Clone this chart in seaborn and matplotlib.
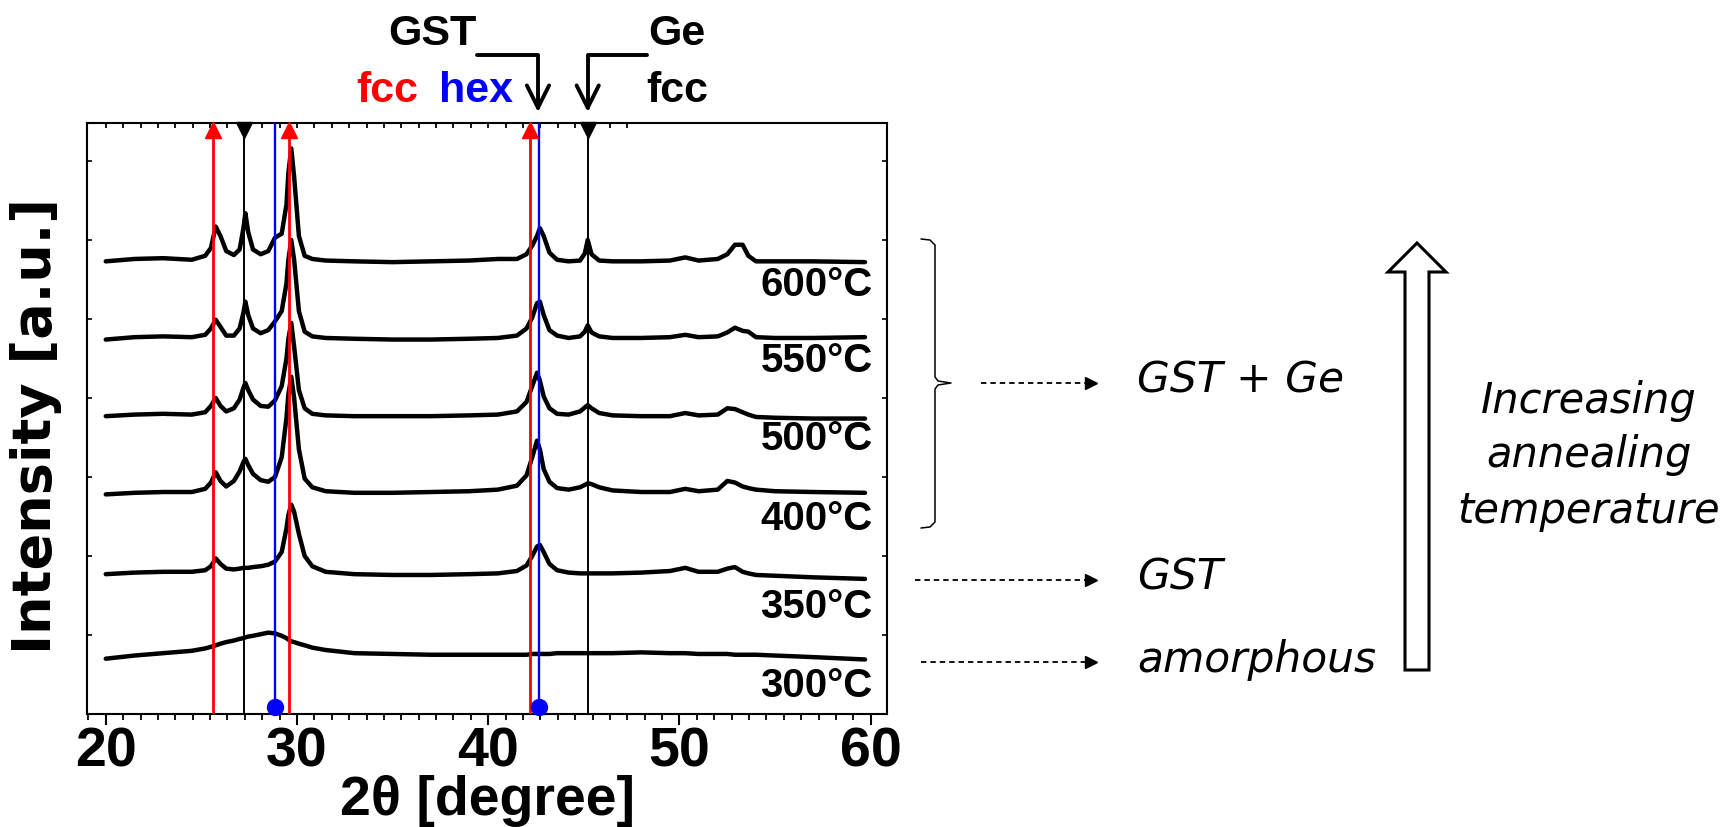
import numpy as np
import pandas as pd
import matplotlib
matplotlib.use("Agg")
import matplotlib.pyplot as plt
import seaborn as sns
import matplotlib.transforms as mtransforms
from matplotlib.ticker import MultipleLocator
from matplotlib.lines import Line2D
from matplotlib.patches import Polygon

# ---------------- data ----------------
two_theta = [20.0, 21.5, 23.0, 24.5, 25.2, 25.5, 25.75, 26.0, 26.3, 26.7,
             27.0, 27.2, 27.3, 27.45, 27.7, 28.1, 28.5, 28.85, 29.2, 29.45,
             29.55, 29.7, 29.85, 30.1, 30.4, 30.8, 31.5, 33.0, 35.0, 37.0,
             39.0, 40.5, 41.5, 42.0, 42.3, 42.55, 42.7, 42.9, 43.2, 43.6,
             44.2, 44.8, 45.05, 45.2, 45.4, 45.8, 46.5, 48.0, 49.5, 50.3,
             51.0, 52.0, 52.5, 52.9, 53.3, 53.6, 54.0, 55.0, 57.0, 59.7]

i_300 = [0.70, 0.74, 0.77, 0.80, 0.83, 0.85, 0.87, 0.89, 0.91, 0.93,
         0.95, 0.96, 0.97, 0.98, 0.99, 1.01, 1.03, 1.02, 0.99, 0.96,
         0.94, 0.92, 0.91, 0.89, 0.87, 0.84, 0.81, 0.77, 0.76, 0.75,
         0.75, 0.75, 0.75, 0.75, 0.76, 0.76, 0.76, 0.76, 0.76, 0.77,
         0.77, 0.77, 0.77, 0.77, 0.77, 0.77, 0.77, 0.78, 0.77, 0.77,
         0.76, 0.76, 0.76, 0.75, 0.75, 0.75, 0.75, 0.74, 0.72, 0.69]

i_350 = [1.77, 1.79, 1.80, 1.80, 1.82, 1.87, 1.97, 1.90, 1.84, 1.83,
         1.84, 1.85, 1.85, 1.85, 1.86, 1.87, 1.89, 1.93, 2.05, 2.35,
         2.52, 2.65, 2.56, 2.28, 2.00, 1.87, 1.80, 1.77, 1.76, 1.76,
         1.77, 1.78, 1.81, 1.88, 2.00, 2.12, 2.14, 2.05, 1.90, 1.82,
         1.79, 1.78, 1.78, 1.78, 1.78, 1.78, 1.78, 1.79, 1.81, 1.85,
         1.80, 1.80, 1.84, 1.86, 1.80, 1.78, 1.76, 1.75, 1.73, 1.71]

i_400 = [2.78, 2.80, 2.81, 2.81, 2.85, 2.93, 3.06, 2.95, 2.88, 2.95,
         3.07, 3.19, 3.23, 3.15, 3.04, 2.96, 2.94, 3.00, 3.25, 3.75,
         4.05, 4.27, 4.00, 3.35, 2.98, 2.87, 2.82, 2.80, 2.80, 2.81,
         2.82, 2.84, 2.89, 3.02, 3.25, 3.46, 3.35, 3.10, 2.94, 2.86,
         2.84, 2.87, 2.90, 2.92, 2.91, 2.87, 2.83, 2.81, 2.81, 2.85,
         2.82, 2.84, 2.95, 2.93, 2.88, 2.86, 2.84, 2.82, 2.81, 2.80]

i_500 = [3.77, 3.79, 3.80, 3.79, 3.82, 3.90, 4.00, 3.90, 3.83, 3.87,
         3.98, 4.13, 4.19, 4.10, 3.98, 3.90, 3.89, 3.97, 4.15, 4.50,
         4.75, 4.95, 4.65, 4.10, 3.87, 3.80, 3.78, 3.77, 3.77, 3.77,
         3.78, 3.79, 3.83, 3.95, 4.15, 4.32, 4.22, 4.02, 3.87, 3.80,
         3.79, 3.83, 3.88, 3.91, 3.87, 3.81, 3.78, 3.77, 3.77, 3.81,
         3.78, 3.79, 3.87, 3.86, 3.82, 3.79, 3.76, 3.75, 3.74, 3.74]

i_550 = [4.74, 4.77, 4.78, 4.77, 4.80, 4.88, 4.99, 4.90, 4.79, 4.79,
         4.88, 5.08, 5.22, 5.05, 4.88, 4.82, 4.86, 4.97, 5.10, 5.45,
         5.75, 6.00, 5.75, 5.10, 4.84, 4.78, 4.76, 4.75, 4.74, 4.74,
         4.75, 4.76, 4.79, 4.88, 5.02, 5.20, 5.22, 5.05, 4.86, 4.79,
         4.76, 4.78, 4.84, 4.92, 4.83, 4.78, 4.76, 4.76, 4.77, 4.80,
         4.77, 4.78, 4.83, 4.89, 4.85, 4.84, 4.77, 4.76, 4.76, 4.77]

i_600 = [5.73, 5.76, 5.77, 5.75, 5.80, 5.90, 6.17, 6.05, 5.86, 5.81,
         5.88, 6.15, 6.34, 6.10, 5.88, 5.82, 5.86, 6.03, 6.08, 6.45,
         6.85, 7.16, 6.80, 6.05, 5.80, 5.76, 5.74, 5.73, 5.72, 5.73,
         5.74, 5.76, 5.76, 5.82, 5.93, 6.05, 6.15, 6.05, 5.84, 5.75,
         5.73, 5.74, 5.83, 6.00, 5.82, 5.74, 5.73, 5.73, 5.74, 5.78,
         5.74, 5.76, 5.82, 5.94, 5.94, 5.80, 5.73, 5.73, 5.73, 5.72]

temps = ["300°C", "350°C", "400°C", "500°C", "550°C", "600°C"]
label_y = [0.22, 1.21, 2.33, 3.34, 4.33, 5.29]

gst_fcc = [25.6, 29.6, 42.2]      # red reference lines
gst_hex = [28.85, 42.67]          # blue reference lines
ge_fcc = [27.25, 45.2]            # black reference lines

x_ticks = [20, 30, 40, 50, 60]
x_tick_labels = ["20", "30", "40", "50", "60"]
phase_labels = ["GST + Ge", "GST", "amorphous"]
trend_lines = ["Increasing", "annealing", "temperature"]

# ---------------- figure ----------------
sns.set_style("ticks")
plt.rcParams["font.family"] = ["Liberation Sans", "DejaVu Sans"]
plt.rcParams["axes.linewidth"] = 1.5
plt.rcParams["text.color"] = "black"
plt.rcParams["axes.labelcolor"] = "black"
plt.rcParams["xtick.color"] = "black"
plt.rcParams["ytick.color"] = "black"
plt.rcParams["axes.edgecolor"] = "black"

W, H = 1728, 827
fig = plt.figure(figsize=(W / 100, H / 100), dpi=100)
ax = fig.add_axes([87 / W, 1 - 714 / H, 800 / W, 591.3 / H])

curves = [i_300, i_350, i_400, i_500, i_550, i_600]
df = pd.DataFrame({
    "two_theta": two_theta * len(curves),
    "intensity": sum(curves, []),
    "temp": np.repeat(temps, len(two_theta)),
})
sns.lineplot(data=df, x="two_theta", y="intensity", units="temp",
             estimator=None, color="black", lw=3.2, ax=ax, legend=False,
             zorder=2)

ax.set_xlim(19.02, 60.85)
ax.set_ylim(0, 7.485)
ax.set_xlabel("")
ax.set_ylabel("")

# reference lines
xtrans = ax.get_xaxis_transform()
for x in gst_fcc:
    ax.axvline(x, color="#ff0000", lw=2.0, zorder=3)
ax.plot(gst_fcc, [0.9877] * len(gst_fcc), "^", color="#ff0000", ms=12,
        transform=xtrans, clip_on=False, zorder=4)
for x in gst_hex:
    ax.axvline(x, color="#0000ff", lw=1.7, zorder=3)
ax.plot(gst_hex, [0.0118] * len(gst_hex), "o", color="#0000ff", ms=11.5,
        transform=xtrans, clip_on=False, zorder=4)
for x in ge_fcc:
    ax.axvline(x, color="black", lw=1.4, zorder=3)
ax.plot(ge_fcc, [0.9877] * len(ge_fcc), "v", color="black", ms=11,
        transform=xtrans, clip_on=False, zorder=4)

# temperature labels
for t, y in zip(temps, label_y):
    ax.text(60.1, y, t, ha="right", va="baseline", fontsize=29,
            fontweight="bold", color="black")

# ticks
ax.set_xticks(x_ticks)
ax.set_xticklabels(x_tick_labels, fontsize=40, fontweight="bold")
ax.xaxis.set_minor_locator(MultipleLocator(10 / 11))
ax.tick_params(axis="x", which="major", direction="out", length=8,
               width=1.5, pad=1, top=False)
ax.tick_params(axis="x", which="minor", direction="out", length=4.3,
               width=1.3, top=False)
ax.set_yticks(range(1, 8))
ax.tick_params(axis="y", which="major", direction="in", length=3.5,
               width=1.2, left=True, right=True, labelleft=False)
for s in ax.spines.values():
    s.set_linewidth(1.5)
    s.set_color("black")

top_ticks = [20 + k * 10 / 11 for k in range(31)]
sec = ax.secondary_xaxis("top")
sec.set_xticks(top_ticks, labels=[""] * len(top_ticks))
sec.tick_params(direction="in", length=3.5, width=1.3, color="black")
sec.spines["top"].set_visible(False)

# axis labels
ax.set_xlabel("2θ [degree]", fontsize=40, fontweight="bold", color="black")
ax.xaxis.set_label_coords(0.5, -0.104)
ax.set_ylabel("Intensity [a.u.]", fontsize=39, fontweight="bold",
              family=["DejaVu Sans"], color="black")
ax.yaxis.set_label_coords(-0.031, 0.487)

# top annotations
def fy(py):
    return 1 - py / H

def fx(px):
    return px / W

fig.text(fx(432), fy(45), "GST", ha="center", va="baseline", fontsize=31,
         fontweight="bold")
fig.text(fx(677), fy(45), "Ge", ha="center", va="baseline", fontsize=31,
         fontweight="bold")
fig.text(fx(387), fy(102), "fcc", ha="center", va="baseline", fontsize=31,
         fontweight="bold", color="#ff0000")
fig.text(fx(476), fy(102), "hex", ha="center", va="baseline", fontsize=31,
         fontweight="bold", color="#0000ff")
fig.text(fx(677), fy(102), "fcc", ha="center", va="baseline", fontsize=31,
         fontweight="bold", color="black")

btrans = mtransforms.blended_transform_factory(ax.transData, fig.transFigure)
arrow_kw = dict(arrowstyle="->,head_length=0.8,head_width=0.4",
                connectionstyle="angle,angleA=0,angleB=90,rad=0",
                lw=2.8, color="black", shrinkA=0, shrinkB=0,
                mutation_scale=20)
ax.annotate("", xy=(42.6, fy(112)), xycoords=btrans,
            xytext=(39.41, fy(55)), textcoords=btrans,
            arrowprops=arrow_kw, annotation_clip=False)
ax.annotate("", xy=(45.2, fy(112)), xycoords=btrans,
            xytext=(48.31, fy(55)), textcoords=btrans,
            arrowprops=arrow_kw, annotation_clip=False)

# right-hand brace
brace_px = [(921, 239), (930, 240), (935, 245), (935, 377), (938, 381),
            (951, 383), (938, 385), (935, 389), (935, 522), (930, 527),
            (921, 528)]
fig.add_artist(Line2D([fx(p[0]) for p in brace_px],
                      [fy(p[1]) for p in brace_px],
                      transform=fig.transFigure, color="black", lw=1.1))

# dashed arrows and phase labels
arrow_rows = [(981, 383, 393), (915, 580, 590), (921, 662, 672)]
for (x0, ya, yb), lab in zip(arrow_rows, phase_labels):
    fig.add_artist(Line2D([fx(x0), fx(1086)], [fy(ya), fy(ya)],
                          transform=fig.transFigure, color="black",
                          lw=1.3, ls=(0, (3, 2.2))))
    fig.add_artist(Line2D([fx(1091)], [fy(ya)], marker=">", ms=8,
                          color="black", transform=fig.transFigure))
    fig.text(fx(1137), fy(yb), lab, ha="left", va="baseline", fontsize=30.5,
             style="italic", family=["DejaVu Sans"], color="black")

# big hollow arrow
arr_px = [(1405, 670), (1429, 670), (1429, 272), (1446, 272), (1417, 243),
          (1388, 272), (1405, 272)]
fig.add_artist(Polygon([(fx(p[0]), fy(p[1])) for p in arr_px], closed=True,
                       transform=fig.transFigure, facecolor="white",
                       edgecolor="black", lw=2.2))

for txt, yb in zip(trend_lines, [413, 467, 523]):
    fig.text(fx(1589), fy(yb), txt, ha="center", va="baseline", fontsize=30,
             style="italic", family=["DejaVu Sans"], color="black")

fig.savefig("out.png", dpi=100)
